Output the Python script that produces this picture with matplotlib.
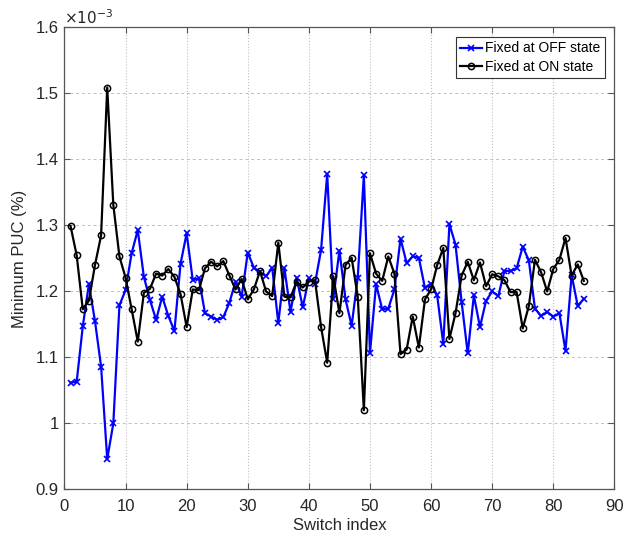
import numpy as np
import matplotlib
matplotlib.use("Agg")
import matplotlib.pyplot as plt
from matplotlib.ticker import FuncFormatter

# Minimum PUC values (units of 1e-3 %)
switch_idx = np.arange(1, 86)

puc_off = [
    1.062, 1.063, 1.147, 1.211, 1.155, 1.086, 0.946, 1.000, 1.179, 1.202,
    1.258, 1.293, 1.222, 1.187, 1.157, 1.192, 1.163, 1.140, 1.242, 1.288,
    1.217, 1.220, 1.167, 1.162, 1.157, 1.161, 1.183, 1.215, 1.192, 1.259,
    1.236, 1.229, 1.223, 1.236, 1.152, 1.235, 1.169, 1.221, 1.176, 1.220,
    1.212, 1.263, 1.378, 1.189, 1.262, 1.188, 1.148, 1.221, 1.376, 1.107,
    1.211, 1.173, 1.174, 1.203, 1.280, 1.243, 1.253, 1.251, 1.205, 1.212,
    1.194, 1.120, 1.302, 1.271, 1.184, 1.106, 1.194, 1.146, 1.186, 1.200,
    1.193, 1.231, 1.231, 1.235, 1.268, 1.247, 1.174, 1.163, 1.169, 1.162,
    1.167, 1.110, 1.225, 1.178, 1.189,
]

puc_on = [
    1.299, 1.255, 1.173, 1.186, 1.240, 1.285, 1.509, 1.331, 1.253, 1.221,
    1.173, 1.124, 1.198, 1.204, 1.227, 1.224, 1.234, 1.222, 1.196, 1.146,
    1.203, 1.202, 1.235, 1.245, 1.238, 1.246, 1.224, 1.203, 1.219, 1.188,
    1.203, 1.231, 1.200, 1.193, 1.274, 1.192, 1.191, 1.215, 1.206, 1.215,
    1.217, 1.146, 1.092, 1.223, 1.167, 1.240, 1.251, 1.192, 1.020, 1.258,
    1.227, 1.216, 1.253, 1.227, 1.105, 1.112, 1.162, 1.115, 1.188, 1.203,
    1.240, 1.266, 1.128, 1.167, 1.224, 1.245, 1.217, 1.244, 1.208, 1.226,
    1.223, 1.217, 1.199, 1.199, 1.144, 1.178, 1.248, 1.229, 1.200, 1.234,
    1.248, 1.281, 1.224, 1.241, 1.216,
]

plt.rcParams["font.family"] = ["Liberation Sans", "DejaVu Sans"]
plt.rcParams["font.size"] = 12

fig = plt.figure(figsize=(6.38, 5.39), dpi=100)
ax = fig.add_axes([0.101, 0.092, 0.862, 0.857])

ax.plot(switch_idx, puc_off, color="#0000ff", lw=1.6, marker="x",
        ms=4.5, mew=1.2, label="Fixed at OFF state")
ax.plot(switch_idx, puc_on, color="black", lw=1.6, marker="o",
        ms=4.5, mew=1.1, mfc="none", label="Fixed at ON state")

ax.set_xlim(0, 90)
ax.set_ylim(0.9, 1.6)
ax.set_xticks(np.arange(0, 91, 10))
ax.set_yticks(np.arange(0.9, 1.61, 0.1))
ax.yaxis.set_major_formatter(FuncFormatter(lambda v, p: "%g" % round(v, 2)))

ax.grid(True, axis="x", color="#c0c0c0", ls=":", lw=0.8)
ax.grid(True, axis="y", color="#c0c0c0", ls="--", lw=0.7, dashes=(3, 3))
ax.tick_params(direction="in", top=True, right=True, length=4,
               color="#555555", labelcolor="#262626", labelsize=12)
ax.tick_params(axis="x", pad=7)
ax.tick_params(axis="y", pad=4)
for s in ax.spines.values():
    s.set_color("#555555")
    s.set_linewidth(0.9)

ax.text(0.0, 1.002, "$\\times10^{-3}$", transform=ax.transAxes,
        ha="left", va="bottom", fontsize=11, color="#262626")

ax.set_xlabel("Switch index", color="#262626", labelpad=3)
ax.set_ylabel("Minimum PUC (%)", color="#262626", labelpad=6)

leg = ax.legend(loc="upper right", fontsize=10, fancybox=False,
                framealpha=1, borderpad=0.3, handlelength=1.6,
                handletextpad=0.2, borderaxespad=0.7, labelspacing=0.35)
leg.get_frame().set_edgecolor("#333333")
leg.get_frame().set_linewidth(0.8)

fig.savefig("out.png", dpi=100)
